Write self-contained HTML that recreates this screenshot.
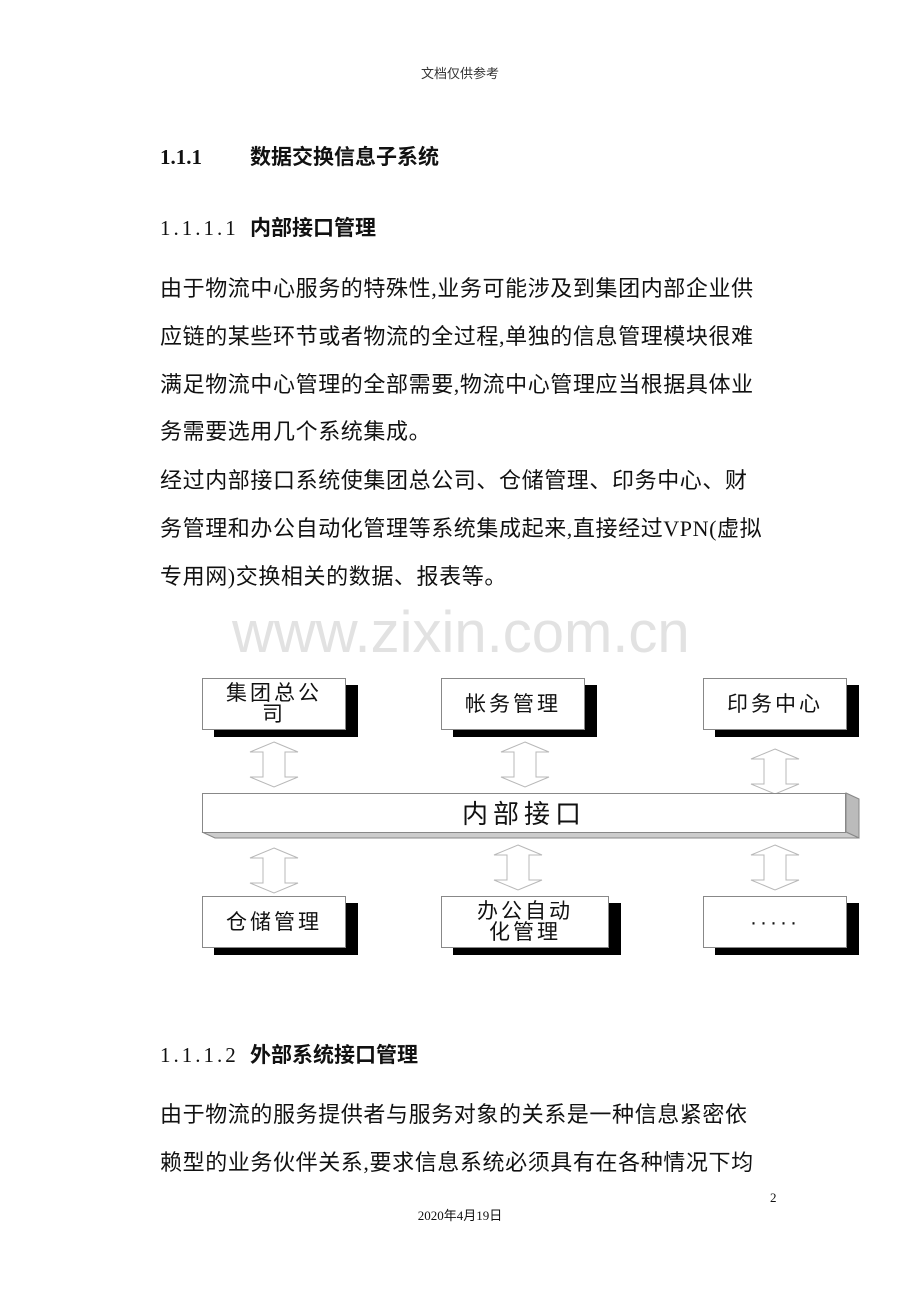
<!DOCTYPE html>
<html><head><meta charset="utf-8">
<style>
body{margin:0;background:#fff;}
#p{position:relative;width:920px;height:1302px;overflow:hidden;font-family:"Liberation Serif","Noto Sans CJK SC",sans-serif;color:#111;}
.t{position:absolute;white-space:nowrap;line-height:1;}
.b{font-size:22px;letter-spacing:0.6px;font-family:"Liberation Serif","Noto Sans CJK SC",sans-serif;}
.h{font-size:21px;font-weight:bold;font-family:"Liberation Serif","Noto Sans CJK SC",sans-serif;}
.n{font-family:"Liberation Serif",serif;font-size:21px;letter-spacing:3px;}
.box{position:absolute;background:#fff;border:1px solid #888;box-shadow:12px 7px 0 #000;font-family:"Liberation Sans","Noto Sans CJK SC",sans-serif;font-size:21px;letter-spacing:3px;display:flex;align-items:center;justify-content:center;text-align:center;line-height:21px;color:#111;}
</style></head><body><div id="p">
<div class="t" style="left:0;width:920px;text-align:center;top:67px;font-size:13px;color:#333;">文档仅供参考</div>
<div class="t h" style="left:160px;top:147px;">1.1.1</div>
<div class="t h" style="left:250px;top:147px;">数据交换信息子系统</div>
<div class="t n" style="left:160px;top:218px;">1.1.1.1</div>
<div class="t h" style="left:250px;top:217px;font-family:'Noto Sans CJK SC',sans-serif;">内部接口管理</div>
<div class="t b" style="left:160px;top:278px;">由于物流中心服务的特殊性,业务可能涉及到集团内部企业供</div>
<div class="t b" style="left:160px;top:326px;">应链的某些环节或者物流的全过程,单独的信息管理模块很难</div>
<div class="t b" style="left:160px;top:374px;">满足物流中心管理的全部需要,物流中心管理应当根据具体业</div>
<div class="t b" style="left:160px;top:421px;">务需要选用几个系统集成。</div>
<div class="t b" style="left:160px;top:470px;">经过内部接口系统使集团总公司、仓储管理、印务中心、财</div>
<div class="t b" style="left:160px;top:518px;">务管理和办公自动化管理等系统集成起来,直接经过VPN(虚拟</div>
<div class="t b" style="left:160px;top:566px;">专用网)交换相关的数据、报表等。</div>
<div class="t" style="left:232px;top:604px;font-size:58px;color:#e2e2e2;font-family:'Liberation Sans',sans-serif;">www.zixin.com.cn</div>

<div class="box" style="left:202px;top:678px;width:142px;height:50px;">集团总公<br>司</div>
<div class="box" style="left:441px;top:678px;width:142px;height:50px;">帐务管理</div>
<div class="box" style="left:703px;top:678px;width:142px;height:50px;">印务中心</div>
<div class="box" style="left:202px;top:896px;width:142px;height:50px;">仓储管理</div>
<div class="box" style="left:441px;top:896px;width:166px;height:50px;">办公自动<br>化管理</div>
<div class="box" style="left:703px;top:896px;width:142px;height:50px;">·····</div>

<svg style="position:absolute;left:0;top:0" width="920" height="1302">
<defs>
<g id="ar"><path d="M0,0 L24,10 L11,10 L11,35 L24,35 L0,45 L-24,35 L-11,35 L-11,10 L-24,10 Z" fill="#fff" stroke="#b8b8b8" stroke-width="1"/></g>
</defs>
<use href="#ar" transform="translate(274,742)"/>
<use href="#ar" transform="translate(525,742)"/>
<use href="#ar" transform="translate(775,749)"/>
<use href="#ar" transform="translate(274,848)"/>
<use href="#ar" transform="translate(518,845)"/>
<use href="#ar" transform="translate(775,845)"/>
<polygon points="846,793 859,799 859,838 846,832" fill="#bbb" stroke="#888"/>
<polygon points="202,832 846,832 859,838 215,838" fill="#ccc" stroke="#888"/>
<rect x="202.5" y="793.5" width="643" height="39" fill="#fff" stroke="#888"/>
<text x="524" y="823" text-anchor="middle" font-family="Liberation Sans, Noto Sans CJK SC, sans-serif" font-size="26" letter-spacing="5" fill="#111">内部接口</text>
</svg>

<div class="t n" style="left:160px;top:1045px;">1.1.1.2</div>
<div class="t h" style="left:250px;top:1044px;font-family:'Noto Sans CJK SC',sans-serif;">外部系统接口管理</div>
<div class="t b" style="left:160px;top:1104px;">由于物流的服务提供者与服务对象的关系是一种信息紧密依</div>
<div class="t b" style="left:160px;top:1152px;">赖型的业务伙伴关系,要求信息系统必须具有在各种情况下均</div>
<div class="t" style="left:770px;top:1191px;font-size:13px;">2</div>
<div class="t" style="left:0;width:920px;text-align:center;top:1209px;font-size:13px;">2020年4月19日</div>
</div></body></html>
